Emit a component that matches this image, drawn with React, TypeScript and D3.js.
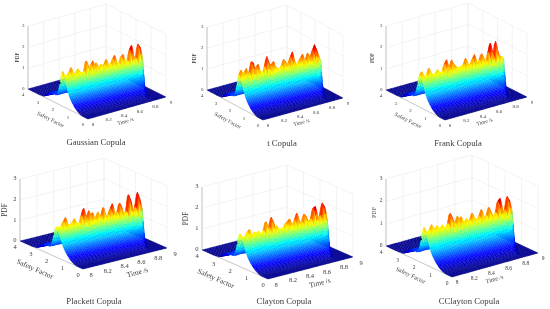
import React, { useMemo } from "react";
import * as d3 from "d3";

// crest height of the PDF ridge, every 0.02 s from 8 to 9
const gaussianCrest = [1.7, 1.45, 1.42, 1.45, 1.6, 1.78, 1.55, 1.45, 1.42, 1.64, 1.5, 1.42, 1.4, 1.45, 1.95, 1.7, 1.5, 1.7, 1.87, 1.6, 1.74, 1.55, 1.45, 1.6, 1.5, 1.6, 1.79, 1.55, 1.45, 1.5, 1.75, 1.89, 1.55, 1.45, 1.45, 1.78, 1.83, 1.5, 1.45, 1.5, 2.0, 2.2, 1.7, 1.5, 1.5, 2.18, 2.05, 1.6, 1.5, 0.6, 0.1];
const tCrest = [1.6, 1.79, 1.5, 1.65, 1.8, 1.6, 1.6, 2.1, 2.0, 1.6, 1.8, 1.87, 1.5, 1.42, 1.45, 1.7, 2.14, 1.9, 1.7, 1.75, 1.86, 1.6, 1.5, 1.42, 1.45, 1.6, 1.85, 1.7, 1.55, 1.6, 1.9, 2.1, 1.7, 1.42, 1.5, 1.6, 1.75, 1.87, 1.6, 1.6, 1.89, 1.7, 1.7, 2.0, 2.2, 2.0, 1.75, 1.5, 1.2, 0.5, 0.1];
const frankCrest = [1.55, 1.68, 1.45, 1.42, 1.5, 1.77, 1.55, 1.45, 1.42, 1.45, 1.59, 1.45, 1.42, 1.5, 1.8, 1.98, 1.65, 1.6, 1.91, 1.7, 1.63, 1.5, 1.45, 1.49, 1.5, 1.6, 1.84, 1.6, 1.45, 1.5, 1.75, 1.91, 1.6, 1.45, 1.6, 1.88, 1.7, 1.5, 1.5, 1.9, 2.3, 1.9, 1.6, 2.3, 1.9, 1.6, 1.55, 1.5, 1.5, 0.6, 0.1];
const plackettCrest = [1.5, 1.45, 1.42, 1.5, 1.7, 1.86, 1.55, 1.45, 1.45, 1.55, 1.7, 1.5, 1.42, 1.45, 1.8, 2.13, 1.8, 1.65, 1.96, 1.7, 1.84, 1.55, 1.5, 1.79, 1.55, 1.6, 1.98, 1.6, 1.5, 1.6, 1.85, 2.06, 1.65, 1.5, 1.6, 2.03, 1.85, 1.55, 1.5, 1.55, 2.37, 2.1, 1.65, 1.55, 1.65, 2.37, 2.1, 1.65, 1.5, 0.6, 0.1];
const claytonCrest = [1.6, 1.4, 1.35, 1.4, 1.6, 1.72, 1.45, 1.4, 1.54, 1.42, 1.53, 1.4, 1.38, 1.5, 1.93, 1.65, 1.6, 2.07, 1.85, 1.5, 1.62, 1.45, 1.4, 1.42, 1.45, 1.65, 1.7, 1.82, 1.55, 1.5, 1.7, 2.01, 1.7, 1.5, 1.55, 1.9, 1.75, 1.55, 1.5, 1.6, 2.1, 2.17, 1.7, 1.55, 1.65, 2.25, 2.1, 1.5, 1.25, 0.5, 0.1];
const cclaytonCrest = [1.67, 1.42, 1.4, 1.5, 1.7, 1.55, 1.42, 1.61, 1.45, 1.42, 1.57, 1.42, 1.4, 1.6, 2.04, 1.85, 1.6, 1.55, 1.83, 1.6, 1.77, 1.5, 1.42, 1.62, 1.45, 1.55, 1.82, 1.6, 1.45, 1.5, 1.6, 1.88, 1.6, 1.45, 1.55, 1.9, 1.7, 1.5, 1.45, 1.6, 2.1, 2.21, 1.7, 1.55, 1.6, 2.21, 2.05, 1.6, 1.5, 0.6, 0.1];

// cross section of the ridge, by distance from the crest in safety factor
const profileOffsets = [-1.4, -1.3, -1.2, -1.1, -1.0, -0.9, -0.8, -0.7, -0.6, -0.5, -0.4, -0.3, -0.2, -0.1, 0, 0.1, 0.2, 0.3, 0.4, 0.5, 0.6, 0.7, 0.8, 0.9, 1.0, 1.1, 1.2, 1.3, 1.4];
const faceProfile = [0, 0, 0.01, 0.03, 0.06, 0.1, 0.15, 0.21, 0.28, 0.36, 0.46, 0.6, 0.75, 0.9, 1, 0.95, 0.7, 0.45, 0.32, 0.25, 0.3, 0.22, 0.28, 0.2, 0.12, 0.16, 0.06, 0.02, 0];
const spikeProfile = [0, 0, 0, 0, 0, 0, 0, 0, 0, 0, 0, 0.1, 0.4, 0.85, 1, 0.8, 0.3, 0.1, 0, 0, 0, 0, 0, 0, 0, 0, 0, 0, 0];
const crestBase = 1.42;

// where the crest sits in safety factor as time goes from 8 to 9
const crestTimes = [8, 9];
const crestSafety = [1.67, 1.3];

// last time the surface is above the floor, by safety factor
const endSafety = [0, 0.7, 1.0, 1.3, 4];
const endTime = [8.8, 8.88, 8.92, 8.97, 8.98];

// the small dark hollow beside the start of the ridge: time, safety factor, PDF
const hollow = [8, 1.9, 1.03];

const timeTicks = [8, 8.2, 8.4, 8.6, 8.8, 9];
const safetyTicks = [0, 1, 2, 3, 4];
const pdfTicks = [0, 1, 2, 3];

const jetStops = [0, 0.11, 0.375, 0.5, 0.625, 0.875, 1];
const jetColors = ["#00008f", "#0000ff", "#00ffff", "#80ff80", "#ffff00", "#ff0000", "#800000"];
const pdfColorMax = 2.25;

const panels = [
  { title: "Gaussian Copula", crest: gaussianCrest, left: [28, 89], front: [88, 119], right: [166, 97], top: 26, titleAt: [96, 145], tick: 5, label: 5.5, tickAt: [5, 5], safetyAt: [-8, 17], timeAt: [-1, 15], pdfDx: -9, hollowSize: 1.2 },
  { title: "t Copula", crest: tCrest, left: [207, 90], front: [263, 120], right: [343, 98], top: 27, titleAt: [282, 146], tick: 5, label: 5.5, tickAt: [5, 5], safetyAt: [-8, 17], timeAt: [-1, 15], pdfDx: -11, hollowSize: 0.5 },
  { title: "Frank Copula", crest: frankCrest, left: [386, 90], front: [445, 120], right: [527, 97], top: 26, titleAt: [458, 146], tick: 5, label: 5.5, tickAt: [5, 5], safetyAt: [-8, 17], timeAt: [-1, 15], pdfDx: -12, hollowSize: 0.7 },
  { title: "Plackett Copula", crest: plackettCrest, left: [20, 241], front: [83, 269], right: [167, 248], top: 179, titleAt: [94, 304], tick: 6.5, label: 7.3, tickAt: [8, 5.5], safetyAt: [-17.5, 16], timeAt: [13, 16], pdfDx: -13, hollowSize: 0.8 },
  { title: "Clayton Copula", crest: claytonCrest, left: [202, 250], front: [268, 279], right: [353, 257], top: 187, titleAt: [284, 304], tick: 6.5, label: 7.3, tickAt: [8, 5.5], safetyAt: [-20, 16], timeAt: [10, 17], pdfDx: -14, hollowSize: 0.8 },
  { title: "CClayton Copula", crest: cclaytonCrest, left: [386, 246], front: [452, 277], right: [538, 253], top: 179, titleAt: [469, 304], tick: 5.5, label: 6, tickAt: [5, 5.5], safetyAt: [-9, 15.5], timeAt: [0, 16], pdfDx: -10, hollowSize: 1.2 },
];

const jet = d3.scaleLinear<string>().domain(jetStops.map((d) => d * pdfColorMax)).range(jetColors).clamp(true);
const faceAt = d3.scaleLinear().domain(profileOffsets).range(faceProfile).clamp(true);
const spikeAt = d3.scaleLinear().domain(profileOffsets).range(spikeProfile).clamp(true);
const crestAt = d3.scaleLinear().domain(crestTimes).range(crestSafety);
const endAt = d3.scaleLinear().domain(endSafety).range(endTime);

// fine over the ridge, coarse on the empty floor behind it
const safetyGrid = [...d3.range(0, 60).map((d) => d / 20), 3, 3.25, 3.5, 3.75, 4];

const Panel = ({ p }: { p: (typeof panels)[number] }) => {
  const timeX = d3.scaleLinear().domain([8, 9]).range([0, p.right[0] - p.front[0]]);
  const timeY = d3.scaleLinear().domain([8, 9]).range([0, p.right[1] - p.front[1]]);
  const safetyX = d3.scaleLinear().domain([0, 4]).range([0, p.left[0] - p.front[0]]);
  const safetyY = d3.scaleLinear().domain([0, 4]).range([0, p.left[1] - p.front[1]]);
  const pdfY = d3.scaleLinear().domain([0, 3]).range([0, p.top - p.left[1]]);
  const project = (t: number, s: number, z: number): [number, number] => [
    p.front[0] + timeX(t) + safetyX(s),
    p.front[1] + timeY(t) + safetyY(s) + pdfY(z),
  ];
  const line = (a: [number, number], b: [number, number]) => `M${a[0]},${a[1]}L${b[0]},${b[1]}`;

  const cells = useMemo(() => {
    const times = p.crest.map((_, i) => 8 + i * 0.02);
    const height = (i: number, s: number) => {
      const h = p.crest[i];
      const o = s - crestAt(times[i]);
      const gone = Math.max(0, Math.min(1, (endAt(s) - times[i]) / 0.02));
      return gone * (Math.min(h, crestBase) * faceAt(o) + Math.max(h - crestBase, 0) * spikeAt(o));
    };
    const out: { d: string; fill: string }[] = [];
    // painter's order, far corner first
    for (let i = times.length - 2; i >= 0; i--) {
      for (let j = safetyGrid.length - 2; j >= 0; j--) {
        const corners: [number, number][] = [
          [i, j],
          [i + 1, j],
          [i + 1, j + 1],
          [i, j + 1],
        ];
        const zs = corners.map(([a, b]) => height(a, safetyGrid[b]));
        const pts = corners.map(([a, b], k) => project(times[a], safetyGrid[b], zs[k]).map((v) => +v.toFixed(2)));
        out.push({ d: "M" + pts.map((q) => q.join(",")).join("L") + "Z", fill: jet(d3.mean(zs) as number) });
      }
    }
    return out;
  }, [p]);

  const grid = "#eeeeee";
  const axis = "#b0b0b0";
  const text = "#3c3c3c";
  const serif = "'Liberation Serif', serif";
  const safetyAngle = (Math.atan2(p.front[1] - p.left[1], p.front[0] - p.left[0]) * 180) / Math.PI;
  const timeAngle = (Math.atan2(p.right[1] - p.front[1], p.right[0] - p.front[0]) * 180) / Math.PI;
  const safetyMid = project(8, 2, 0);
  const timeMid = project(8.5, 0, 0);
  const pdfMid = project(8, 4, 1.5);
  const spot = project(hollow[0], hollow[1], hollow[2]);

  return (
    <g>
      {pdfTicks.map((z) => (
        <g key={z}>
          <path d={line(project(8, 4, z), project(9, 4, z))} stroke={grid} strokeWidth={0.7} fill="none" />
          <path d={line(project(9, 4, z), project(9, 0, z))} stroke={grid} strokeWidth={0.7} fill="none" />
        </g>
      ))}
      {timeTicks.map((t) => (
        <path key={t} d={line(project(t, 4, 0), project(t, 4, 3))} stroke={grid} strokeWidth={0.7} fill="none" />
      ))}
      {safetyTicks.map((s) => (
        <path key={s} d={line(project(9, s, 0), project(9, s, 3))} stroke={grid} strokeWidth={0.7} fill="none" />
      ))}
      <path d={line(project(8, 4, 0), project(8, 4, 3))} stroke={axis} strokeWidth={0.7} fill="none" />
      <path d={line(project(8, 4, 0), project(8, 0, 0))} stroke={axis} strokeWidth={0.7} fill="none" />
      <path d={line(project(8, 0, 0), project(9, 0, 0))} stroke={axis} strokeWidth={0.7} fill="none" />
      {cells.map((c, i) => (
        <path key={i} d={c.d} fill={c.fill} stroke={c.fill} strokeWidth={0.25} />
      ))}
      <circle cx={spot[0]} cy={spot[1]} r={p.hollowSize} fill="#00103a" />
      <g fontFamily={serif} fill={text} fontSize={p.tick}>
        {pdfTicks.map((z) => {
          const q = project(8, 4, z);
          return (
            <text key={z} x={q[0] - 3.5} y={q[1] + p.tick * 0.2} textAnchor="end">
              {z}
            </text>
          );
        })}
        {safetyTicks.map((s) => {
          const q = project(8, s, 0);
          return (
            <text key={s} x={q[0] - 5} y={q[1] + p.tickAt[1] + p.tick * 0.45} textAnchor="middle">
              {s}
            </text>
          );
        })}
        {timeTicks.map((t) => {
          const q = project(t, 0, 0);
          return (
            <text key={t} x={q[0] + p.tickAt[0]} y={q[1] + p.tickAt[1] + p.tick * 0.35} textAnchor="middle">
              {t}
            </text>
          );
        })}
      </g>
      <g fontFamily={serif} fill={text} fontSize={p.label} textAnchor="middle">
        <text transform={`translate(${pdfMid[0] + p.pdfDx},${pdfMid[1]}) rotate(-90)`}>PDF</text>
        <text transform={`translate(${safetyMid[0] + p.safetyAt[0]},${safetyMid[1] + p.safetyAt[1]}) rotate(${safetyAngle})`}>Safety Factor</text>
        <text transform={`translate(${timeMid[0] + p.timeAt[0]},${timeMid[1] + p.timeAt[1]}) rotate(${timeAngle})`}>Time /s</text>
      </g>
      <text x={p.titleAt[0]} y={p.titleAt[1]} fontFamily={serif} fontSize={8.7} fill={text} textAnchor="middle">
        {p.title}
      </text>
    </g>
  );
};

export default function App() {
  return (
    <svg width={550} height={309} style={{ position: "absolute", left: 0, top: 0, background: "#fff" }}>
      <defs>
        <filter id="soft" x="0" y="0" width="100%" height="100%">
          <feGaussianBlur stdDeviation={0.5} />
        </filter>
      </defs>
      <g filter="url(#soft)">
        <rect width={550} height={309} fill="#fff" />
        {panels.map((p) => (
          <Panel key={p.title} p={p} />
        ))}
      </g>
    </svg>
  );
}
